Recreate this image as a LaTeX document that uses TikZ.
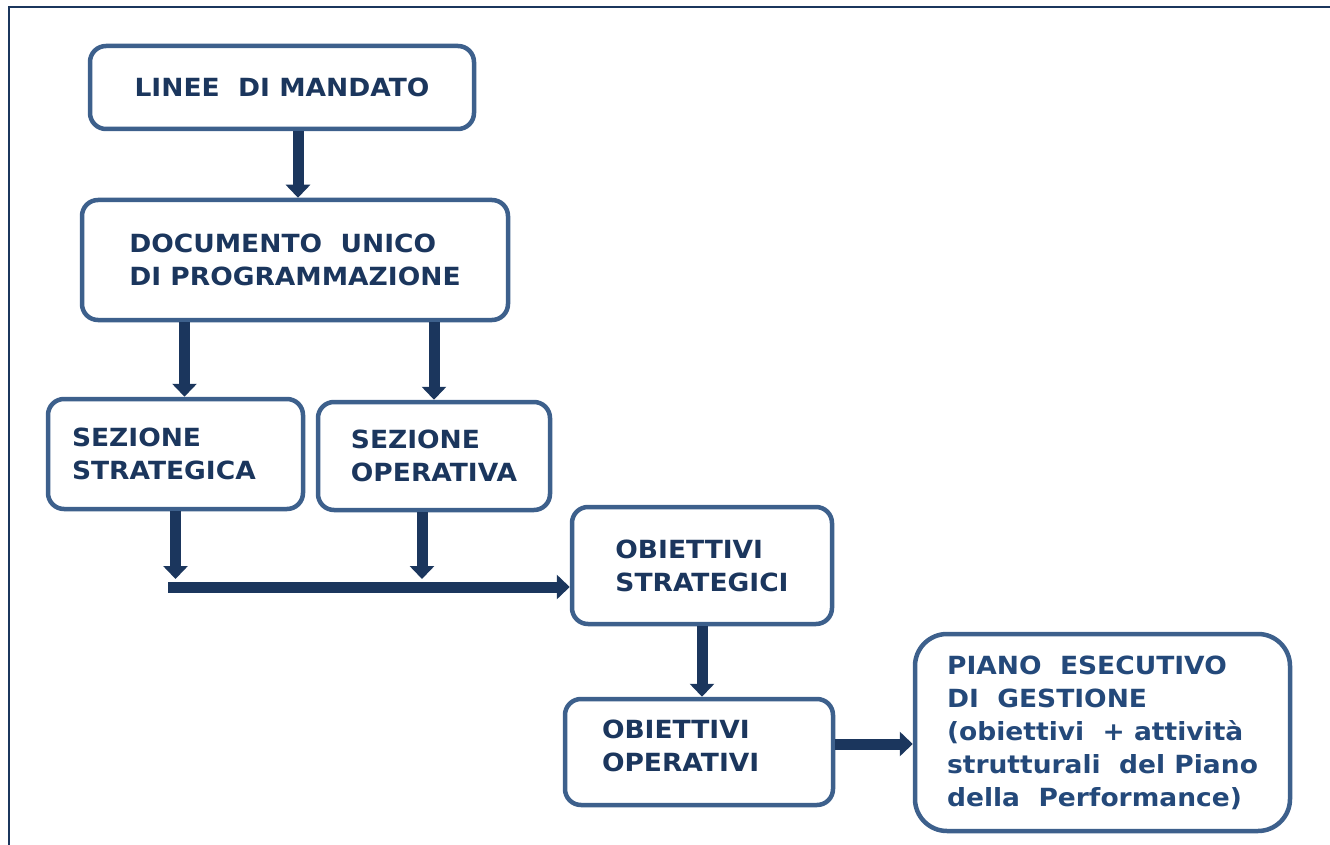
\documentclass[tikz,border=0pt]{standalone}
\usepackage{fontspec}
\setmainfont[FakeStretch=1.06]{DejaVu Sans}
\usepackage{xcolor}
\usepackage{tikz}
\usetikzlibrary{arrows.meta,calc,positioning}
\definecolor{ink}{RGB}{27,54,93}
\definecolor{pegink}{RGB}{36,73,122}
\definecolor{boxline}{RGB}{61,96,140}
\tikzset{
  stage/.style={draw=boxline, line width=4.5pt, rounded corners=16pt, fill=white,
    align=left, inner sep=0pt, text=ink,
    font=\fontsize{25}{33}\selectfont\bfseries},
  leftstage/.style={stage, inner xsep=#1},
  flow/.style={draw=ink, line width=11pt, -{Triangle[width=24pt,length=13pt]}},
  frame/.style={draw=ink, line width=2.5pt}
}
\begin{document}
\begin{tikzpicture}[x=1pt,y=-1pt]
  \useasboundingbox (0,0) rectangle (1330,845);
  % outer frame
  \draw[frame] (9,845) -- (9,7) -- (1330,7);
  % boxes
  \node[stage, minimum width=384pt, minimum height=83pt] (lm) at (282,87.5) {LINEE \ DI MANDATO};
  \node[stage, minimum width=426pt, minimum height=120pt] (doc) at (295,260) {DOCUMENTO \ UNICO\\DI PROGRAMMAZIONE};
  \node[leftstage=24pt, text width=207pt, minimum height=110pt] (ss) at (175.5,454) {SEZIONE\\STRATEGICA};
  \node[stage, minimum width=232pt, minimum height=108pt] (so) at (434,456) {SEZIONE\\OPERATIVA};
  \node[stage, minimum width=260pt, minimum height=117pt] (os) at (702,565.5) {OBIETTIVI\\STRATEGICI};
  \node[leftstage=37pt, text width=194pt, minimum height=106pt] (oo) at (699,752) {OBIETTIVI\\OPERATIVI\\[-21pt]\mbox{}};
  \node[stage, rounded corners=32pt, text=pegink, minimum width=375pt, minimum height=197pt] (peg) at (1102.5,732.5)
    {PIANO \ ESECUTIVO\\DI \ GESTIONE\\(obiettivi \ + attività\\strutturali \ del Piano\\della \ Performance)};
  % joining line
  \coordinate (join) at (168,587);
  % arrows
  \draw[flow] ([xshift=16pt]lm.south) -- ([xshift=16pt]lm.south |- doc.north);
  \draw[flow] ([xshift=9pt]ss.north |- doc.south) -- ([xshift=9pt]ss.north);
  \draw[flow] (so.north |- doc.south) -- (so.north);
  \draw[flow] (ss.south) -- ([yshift=8pt]ss.south |- join);
  \draw[flow] ([xshift=-12pt]so.south) -- ([xshift=-12pt,yshift=8pt]so.south |- join);
  \draw[flow] (join) -- (join -| os.west);
  \draw[flow] (os.south) -- (os.south |- oo.north);
  \draw[flow] ([yshift=8pt]oo.east) -- ([yshift=8pt]oo.east -| peg.west);
\end{tikzpicture}
\end{document}
